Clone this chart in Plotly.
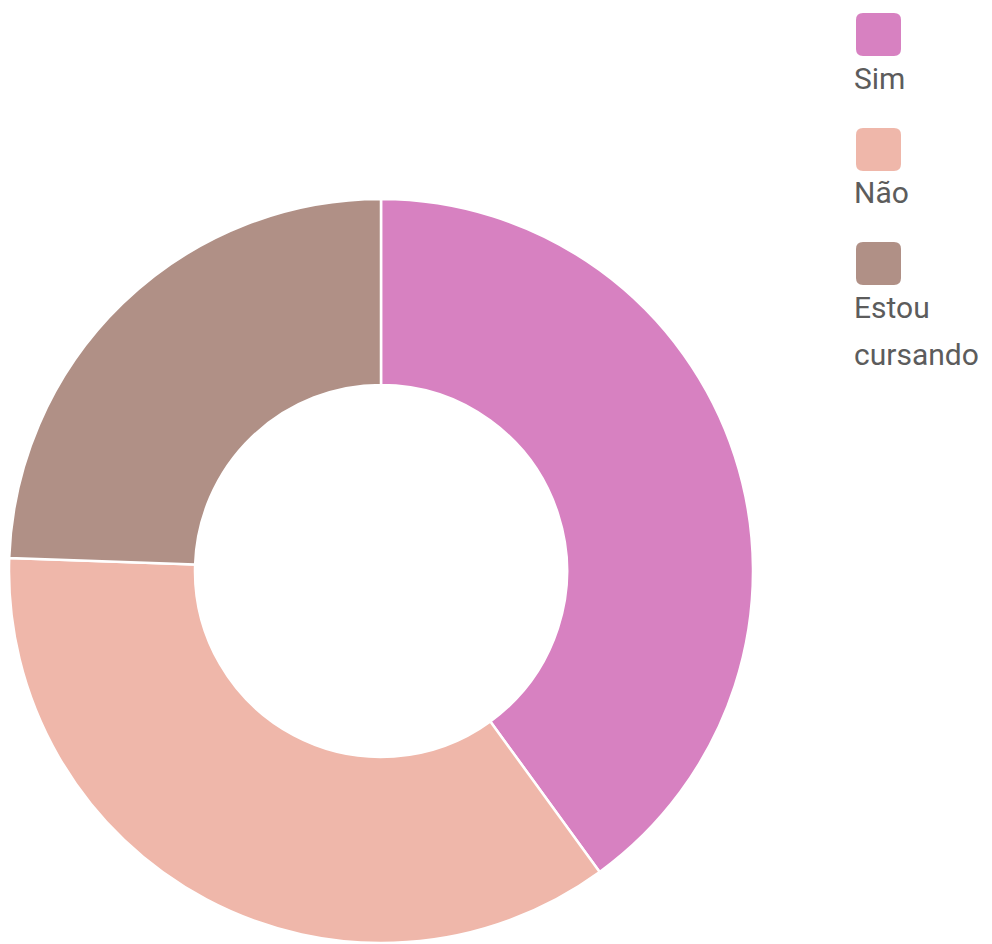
import plotly.graph_objects as go

categories = ["Sim", "Não", "Estou cursando"]
legend_lines = [["Sim"], ["Não"], ["Estou", "cursando"]]
values = [18, 16, 11]
colors = ["#D781C1", "#EFB7AA", "#B09086"]

W, H = 992, 944
OFF = 8  # page body margin offset

def px_x(x):
    return (x - OFF) / W

def px_y(y):
    return 1 - (y - OFF) / H

cx, cy, R = 381, 571, 372

fig = go.Figure()
fig.add_trace(go.Pie(
    labels=categories,
    values=values,
    marker=dict(colors=colors, line=dict(color="white", width=2.5)),
    hole=0.5,
    sort=False,
    direction="clockwise",
    rotation=0,
    textinfo="none",
    hoverinfo="label+value+percent",
    showlegend=False,
    domain=dict(x=[px_x(cx - R), px_x(cx + R)], y=[px_y(cy + R), px_y(cy - R)]),
))

shapes = []
annotations = []
tops = [13, 128, 242]
for i, (lines, col) in enumerate(zip(legend_lines, colors)):
    x0, x1 = 856, 901
    y0, y1 = tops[i], tops[i] + 43
    r = 7
    path = (
        f"M {px_x(x0 + r)},{px_y(y0)} L {px_x(x1 - r)},{px_y(y0)} "
        f"Q {px_x(x1)},{px_y(y0)} {px_x(x1)},{px_y(y0 + r)} "
        f"L {px_x(x1)},{px_y(y1 - r)} Q {px_x(x1)},{px_y(y1)} {px_x(x1 - r)},{px_y(y1)} "
        f"L {px_x(x0 + r)},{px_y(y1)} Q {px_x(x0)},{px_y(y1)} {px_x(x0)},{px_y(y1 - r)} "
        f"L {px_x(x0)},{px_y(y0 + r)} Q {px_x(x0)},{px_y(y0)} {px_x(x0 + r)},{px_y(y0)} Z"
    )
    shapes.append(dict(type="path", path=path, xref="paper", yref="paper",
                       fillcolor=col, line=dict(width=0)))
    for j, line in enumerate(lines):
        yc = y1 + 22 + j * 47
        annotations.append(dict(
            x=px_x(852), y=px_y(yc), xref="paper", yref="paper",
            xanchor="left", yanchor="middle", align="left", showarrow=False,
            text=line, font=dict(family="Roboto", size=30, color="#5c5c5c"),
        ))

fig.update_layout(
    width=W, height=H,
    margin=dict(l=0, r=0, t=0, b=0),
    paper_bgcolor="white",
    plot_bgcolor="white",
    shapes=shapes,
    annotations=annotations,
)

fig.write_html("out.html")
